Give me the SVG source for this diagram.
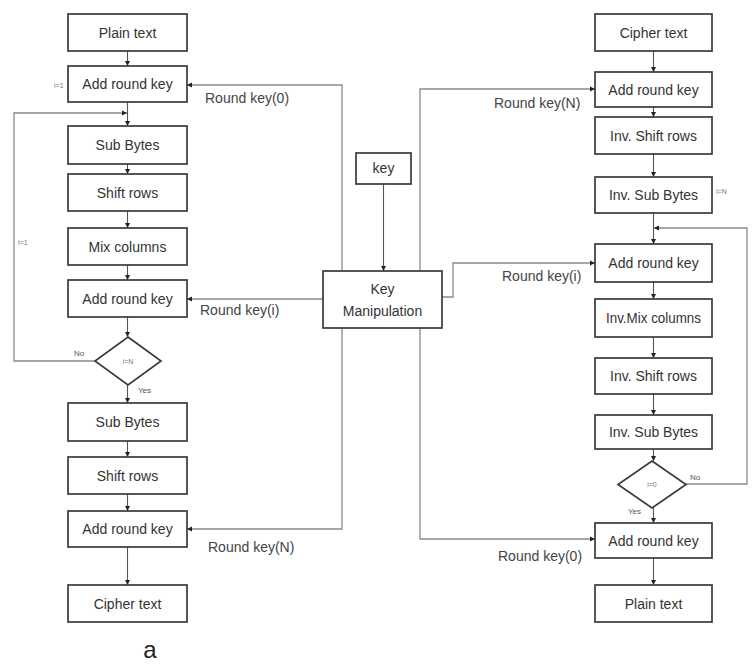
<svg xmlns="http://www.w3.org/2000/svg" width="755" height="668" viewBox="0 0 755 668">
<style>
.box{fill:#fff;stroke:#3a3a3a;stroke-width:1.7}
.t{font-family:"Liberation Sans",Arial,sans-serif;font-size:14px;fill:#333;text-anchor:middle}
.lbl{font-family:"Liberation Sans",Arial,sans-serif;font-size:14px;fill:#444}
.s{font-family:"Liberation Sans",Arial,sans-serif;font-size:7px;fill:#777}
.sm{font-family:"Liberation Sans",Arial,sans-serif;font-size:8px;fill:#555}
.c{fill:none;stroke:#8a8a8a;stroke-width:1.3}
.v{fill:none;stroke:#555;stroke-width:1.1}
</style>
<defs>
<marker id="ah" markerUnits="userSpaceOnUse" markerWidth="6" markerHeight="6" refX="5" refY="3" orient="auto">
<path d="M0,0.5 L5,3 L0,5.5 Z" fill="#222"/>
</marker>
</defs>
<rect width="755" height="668" fill="#fff"/>
<g id="connectors">
<path class="v" d="M127.5,51V66" marker-end="url(#ah)"/>
<path class="v" d="M127.5,102V126" marker-end="url(#ah)"/>
<path class="v" d="M127.5,164V174" marker-end="url(#ah)"/>
<path class="v" d="M127.5,211V228" marker-end="url(#ah)"/>
<path class="v" d="M127.5,265V280" marker-end="url(#ah)"/>
<path class="v" d="M127.5,317V337" marker-end="url(#ah)"/>
<path class="v" d="M127.5,385V403" marker-end="url(#ah)"/>
<path class="v" d="M127.5,441V457" marker-end="url(#ah)"/>
<path class="v" d="M127.5,494V511" marker-end="url(#ah)"/>
<path class="v" d="M127.5,547V585" marker-end="url(#ah)"/>
<path class="c" d="M95,361H14V113H127" marker-end="url(#ah)"/>
<path class="c" d="M342,271V85H187" marker-end="url(#ah)"/>
<path class="c" d="M323,299H187" marker-end="url(#ah)"/>
<path class="c" d="M342,328V529H187" marker-end="url(#ah)"/>
<path class="v" d="M383.5,184V271" marker-end="url(#ah)"/>
<path class="c" d="M420,271V89H595" marker-end="url(#ah)"/>
<path class="c" d="M442,297H453V263H595" marker-end="url(#ah)"/>
<path class="c" d="M420,328V539H595" marker-end="url(#ah)"/>
<path class="v" d="M653.5,51V72" marker-end="url(#ah)"/>
<path class="v" d="M653.5,107V117" marker-end="url(#ah)"/>
<path class="v" d="M653.5,154V177" marker-end="url(#ah)"/>
<path class="v" d="M653.5,213V244" marker-end="url(#ah)"/>
<path class="v" d="M653.5,282V299" marker-end="url(#ah)"/>
<path class="v" d="M653.5,337V358" marker-end="url(#ah)"/>
<path class="v" d="M653.5,394V415" marker-end="url(#ah)"/>
<path class="v" d="M653.5,449V461" marker-end="url(#ah)"/>
<path class="v" d="M653.5,508V523" marker-end="url(#ah)"/>
<path class="v" d="M653.5,558V585" marker-end="url(#ah)"/>
<path class="c" d="M686,484H747V228H654" marker-end="url(#ah)"/>
<text class="lbl" x="205" y="103">Round key(0)</text>
<text class="lbl" x="200" y="315">Round key(i)</text>
<text class="lbl" x="208" y="552">Round key(N)</text>
<text class="lbl" x="494" y="108">Round key(N)</text>
<text class="lbl" x="502" y="281">Round key(i)</text>
<text class="lbl" x="498" y="561">Round key(0)</text>
<text class="s" x="54" y="88">i=1</text>
<text class="s" x="18" y="245">i=1</text>
<text class="sm" x="74" y="356">No</text>
<text class="sm" x="138" y="393">Yes</text>
<text class="s" x="716" y="194">i=N</text>
<text class="sm" x="690" y="480">No</text>
<text class="sm" x="628" y="514">Yes</text>
</g>
<g id="n-plain1"><rect class="box" x="68" y="14" width="119" height="37"/><text class="t" x="127.5" y="37.5">Plain text</text></g>
<g id="n-ark1"><rect class="box" x="68" y="66" width="119" height="36"/><text class="t" x="127.5" y="89">Add round key</text></g>
<g id="n-sb1"><rect class="box" x="68" y="126" width="119" height="38"/><text class="t" x="127.5" y="150">Sub Bytes</text></g>
<g id="n-sr1"><rect class="box" x="68" y="174" width="119" height="37"/><text class="t" x="127.5" y="197.5">Shift rows</text></g>
<g id="n-mc"><rect class="box" x="68" y="228" width="119" height="37"/><text class="t" x="127.5" y="251.5">Mix columns</text></g>
<g id="n-ark2"><rect class="box" x="68" y="280" width="119" height="37"/><text class="t" x="127.5" y="303.5">Add round key</text></g>
<g id="n-d1"><path class="box" d="M128,337L161,361L128,385L95,361Z"/><text class="s" x="128" y="363.5" text-anchor="middle">i=N</text></g>
<g id="n-sb2"><rect class="box" x="68" y="403" width="119" height="38"/><text class="t" x="127.5" y="427">Sub Bytes</text></g>
<g id="n-sr2"><rect class="box" x="68" y="457" width="119" height="37"/><text class="t" x="127.5" y="480.5">Shift rows</text></g>
<g id="n-ark3"><rect class="box" x="68" y="511" width="119" height="36"/><text class="t" x="127.5" y="534">Add round key</text></g>
<g id="n-cipher1"><rect class="box" x="68" y="585" width="119" height="37"/><text class="t" x="127.5" y="608.5">Cipher text</text></g>
<g id="n-key"><rect class="box" x="356" y="153" width="55" height="31"/><text class="t" x="383.5" y="173">key</text></g>
<g id="n-km"><rect class="box" x="323" y="271" width="119" height="57"/><text class="t" x="382.5" y="294">Key</text><text class="t" x="382.5" y="316">Manipulation</text></g>
<g id="n-cipher2"><rect class="box" x="595" y="14" width="117" height="37"/><text class="t" x="653.5" y="37.5">Cipher text</text></g>
<g id="n-rark1"><rect class="box" x="595" y="72" width="117" height="35"/><text class="t" x="653.5" y="94.5">Add round key</text></g>
<g id="n-isr1"><rect class="box" x="595" y="117" width="117" height="37"/><text class="t" x="653.5" y="140.5">Inv. Shift rows</text></g>
<g id="n-isb1"><rect class="box" x="595" y="177" width="117" height="36"/><text class="t" x="653.5" y="200">Inv. Sub Bytes</text></g>
<g id="n-rark2"><rect class="box" x="595" y="244" width="117" height="38"/><text class="t" x="653.5" y="268">Add round key</text></g>
<g id="n-imc"><rect class="box" x="595" y="299" width="117" height="38"/><text class="t" x="653.5" y="323" textLength="95" lengthAdjust="spacingAndGlyphs">Inv.Mix columns</text></g>
<g id="n-isr2"><rect class="box" x="595" y="358" width="117" height="36"/><text class="t" x="653.5" y="381">Inv. Shift rows</text></g>
<g id="n-isb2"><rect class="box" x="595" y="415" width="117" height="34"/><text class="t" x="653.5" y="437">Inv. Sub Bytes</text></g>
<g id="n-d2"><path class="box" d="M652,461L686,484.5L652,508L618,484.5Z"/><text class="s" x="652" y="487" text-anchor="middle">i=0</text></g>
<g id="n-rark3"><rect class="box" x="595" y="523" width="117" height="35"/><text class="t" x="653.5" y="545.5">Add round key</text></g>
<g id="n-plain2"><rect class="box" x="595" y="585" width="117" height="37"/><text class="t" x="653.5" y="608.5">Plain text</text></g>
<text x="150" y="658" font-family="Liberation Sans,Arial,sans-serif" font-size="24" fill="#222" text-anchor="middle">a</text>
</svg>
